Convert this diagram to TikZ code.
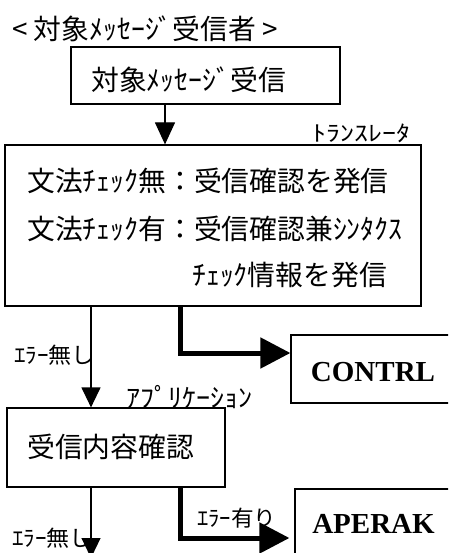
\documentclass[tikz,border=0pt]{standalone}
\usepackage{fontspec}
\usepackage{graphicx}
\newfontfamily\jp{Noto Sans CJK JP}
\newfontfamily\serifb{Liberation Serif}
\usetikzlibrary{arrows.meta}
\tikzset{
  boxframe/.style={draw, line width=1.2pt, inner sep=0pt, rectangle},
  bigtext/.style={font={\jp\fontsize{27.8}{32}\selectfont}, inner sep=0pt, anchor=west},
  labeltext/.style={font={\jp\fontsize{22}{26}\selectfont}, inner sep=0pt, anchor=west},
  msgtext/.style={font={\serifb\bfseries\fontsize{29}{32}\selectfont}, inner sep=0pt},
  thinarrow/.style={line width=1.2pt, -{Triangle[length=20pt,width=19pt]}},
  thickarrow/.style={line width=5pt, -{Triangle[length=30pt,width=30pt]}}
}
\begin{document}
\begin{tikzpicture}[x=1pt,y=-1pt]
\useasboundingbox (0,0) rectangle (448,553);
\clip (0,0) rectangle (448,553);
\fill[white] (0,0) rectangle (448,553);

% title
\node[bigtext] (title) at (12,29) {< 対象ﾒｯｾｰｼﾞ受信者 >};

% box 1
\node[boxframe, minimum width=269pt, minimum height=57pt] (box1) at (205.5,75.5) {};
\node[bigtext] (t1) at (91,80) {対象ﾒｯｾｰｼﾞ受信};

% box 2
\node[font={\jp\fontsize{22}{26}\selectfont}, inner sep=0pt, anchor=west] (trans) at (312,133) {\scalebox{1.27}[1]{ﾄﾗﾝｽﾚｰﾀ}};
\node[boxframe, minimum width=416pt, minimum height=161pt] (box2) at (213,225.5) {};
\node[bigtext] (l1) at (27,181) {文法ﾁｪｯｸ無：受信確認を発信};
\node[bigtext] (l2) at (27,229) {文法ﾁｪｯｸ有：受信確認兼ｼﾝﾀｸｽ};
\node[bigtext] (l3) at (192,275) {ﾁｪｯｸ情報を発信};

% CONTRL box
\node[boxframe, minimum width=179pt, minimum height=68pt] (cbox) at (380.5,369) {};
\node[msgtext] (ctext) at (373,372) {CONTRL};

% box 3
\node[font={\jp\fontsize{26}{30}\selectfont}, inner sep=0pt, anchor=west] (app) at (126,397) {\scalebox{1.08}[1]{ｱﾌﾟﾘｹｰｼｮﾝ}};
\node[boxframe, minimum width=218pt, minimum height=79pt] (box3) at (116,447.5) {};
\node[bigtext] (t3) at (27,447) {受信内容確認};

% APERAK box
\node[boxframe, minimum width=179pt, minimum height=120pt] (abox) at (384.5,549) {};
\node[msgtext] (atext) at (373.5,524) {APERAK};

% labels
\node[labeltext] (err1) at (14,355.5) {\scalebox{1.05}[1]{ｴﾗｰ無し}};
\node[labeltext] (err2) at (197,518) {\scalebox{1.03}[1]{ｴﾗｰ有り}};
\node[labeltext] (err3) at (12,538) {\scalebox{1.05}[1]{ｴﾗｰ無し}};

% helper coordinates
\coordinate (c1) at (165,0);
\coordinate (c2) at (91,0);
\coordinate (c3) at (180,0);
\coordinate (k1) at (0,353);
\coordinate (k2) at (0,538);
\coordinate (bottomend) at (91,558);

% connectors
\draw[line width=1.2pt, -{Triangle[length=22pt,width=20pt]}] (box1.south -| c1) -- (box2.north -| c1);
\draw[thinarrow] (box2.south -| c2) -- (box3.north -| c2);
\draw[thickarrow] (box2.south -| c3) |- (cbox.west |- k1);
\draw[thinarrow] (box3.south -| c2) -- (bottomend);
\draw[thickarrow, shorten >=5pt] (box3.south -| c3) |- (abox.west |- k2);
\end{tikzpicture}
\end{document}
